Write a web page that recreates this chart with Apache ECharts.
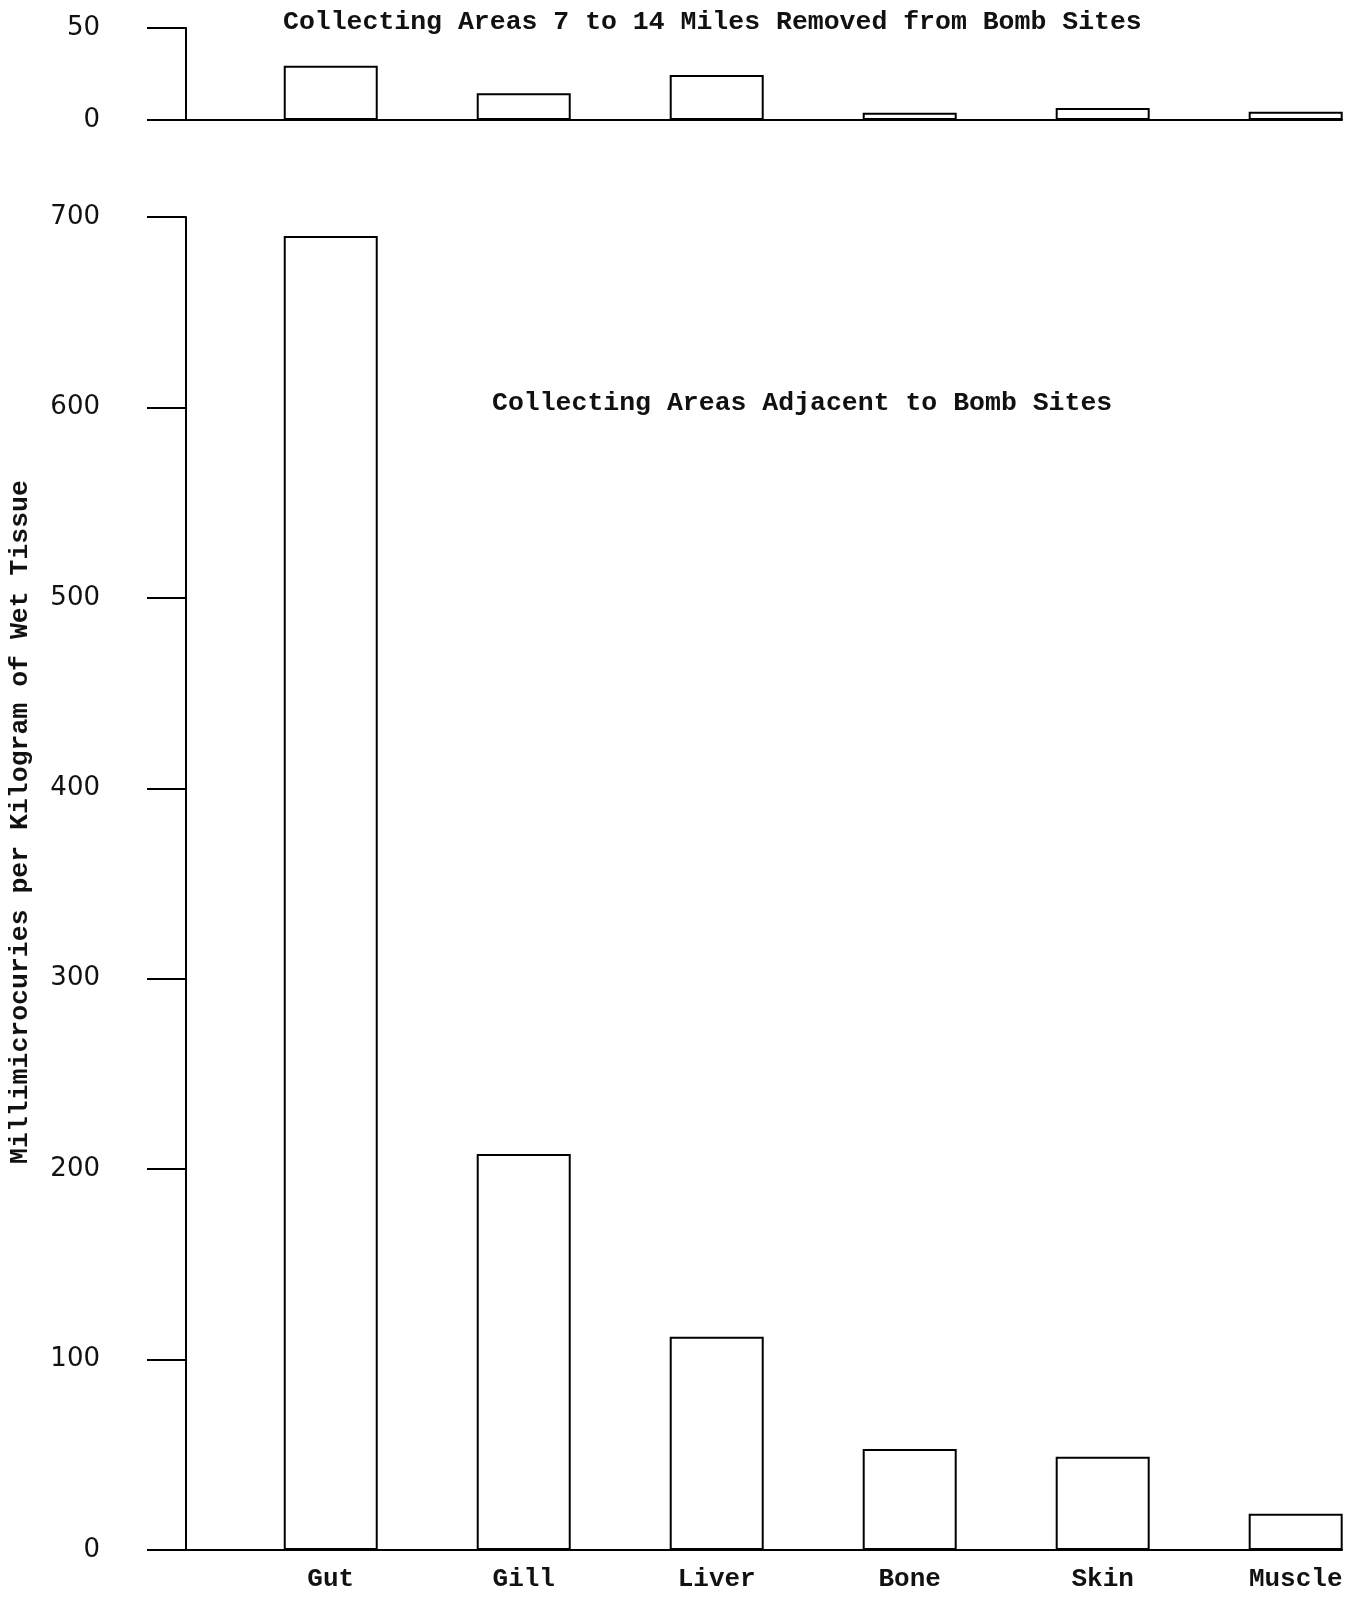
<!DOCTYPE html>
<html>
<head>
<meta charset="utf-8">
<script src="https://cdn.jsdelivr.net/npm/echarts@6/dist/echarts.min.js"></script>
<style>
html,body{margin:0;padding:0;background:#fff;}
#chart{width:1352px;height:1606px;}
</style>
</head>
<body>
<div id="chart"></div>
<script>
// ---- data ----
const categories = ['Gut', 'Gill', 'Liver', 'Bone', 'Skin', 'Muscle'];
const remoteValues = [29.5, 14.5, 24.5, 4, 6.5, 4.5];   // 7 to 14 miles removed
const adjacentValues = [690, 208, 112, 53, 49, 19];     // adjacent to bomb sites
const remoteTicks = [0, 50];
const adjacentTicks = [0, 100, 200, 300, 400, 500, 600, 700];
const remoteTitle = 'Collecting Areas 7 to 14 Miles Removed from Bomb Sites';
const adjacentTitle = 'Collecting Areas Adjacent to Bomb Sites';
const yAxisTitle = 'Millimicrocuries per Kilogram of Wet Tissue';

const mono = '"Liberation Mono", "DejaVu Sans Mono", monospace';
const sans = '"DejaVu Sans", sans-serif';
const positions = categories.map((c, i) => i + 1);

const chart = echarts.init(document.getElementById('chart'), null, {renderer: 'canvas'});

function xAxisCfg(gridIndex, showLabels) {
  return {
    type: 'value', gridIndex: gridIndex, min: 0.25, max: 6.24,
    axisLine: {show: true, onZero: false, lineStyle: {color: '#000', width: 2}},
    axisTick: {show: false},
    splitLine: {show: false},
    axisLabel: showLabels ? {
      show: true, customValues: positions,
      formatter: v => categories[Math.round(v) - 1] || '',
      fontFamily: mono, fontSize: 26, fontWeight: 'bold', color: '#111', margin: 16
    } : {show: false}
  };
}
function yAxisCfg(gridIndex, max, interval) {
  return {
    type: 'value', gridIndex: gridIndex, min: 0, max: max, interval: interval,
    axisLine: {show: true, lineStyle: {color: '#000', width: 2}},
    axisTick: {show: true, inside: false, length: 39, lineStyle: {color: '#000', width: 2}},
    splitLine: {show: false},
    axisLabel: {fontFamily: sans, fontSize: 26, color: '#111', margin: 86}
  };
}

chart.setOption({
  animation: false,
  backgroundColor: '#fff',
  title: [
    {text: remoteTitle, left: 278, top: 4,
     textStyle: {fontFamily: mono, fontSize: 26.5, fontWeight: 'bold', color: '#111'}},
    {text: adjacentTitle, left: 487, top: 385,
     textStyle: {fontFamily: mono, fontSize: 26.5, fontWeight: 'bold', color: '#111'}}
  ],
  grid: [
    {left: 186, right: 10, top: 28, height: 92},
    {left: 186, right: 10, top: 217, height: 1333}
  ],
  xAxis: [xAxisCfg(0, false), xAxisCfg(1, true)],
  yAxis: [yAxisCfg(0, remoteTicks[1], remoteTicks[1]), yAxisCfg(1, adjacentTicks[adjacentTicks.length - 1], adjacentTicks[1])],
  graphic: [{
    type: 'text', x: 20, y: 822, rotation: Math.PI / 2,
    style: {text: yAxisTitle, fontFamily: mono, fontSize: 26.5, fontWeight: 'bold', fill: '#111',
            textAlign: 'center', textVerticalAlign: 'middle'}
  }],
  series: [
    {type: 'bar', xAxisIndex: 0, yAxisIndex: 0, barWidth: 94,
     data: categories.map((c, i) => [positions[i], remoteValues[i]]),
     itemStyle: {color: '#fff', borderColor: '#000', borderWidth: 2}},
    {type: 'bar', xAxisIndex: 1, yAxisIndex: 1, barWidth: 94,
     data: categories.map((c, i) => [positions[i], adjacentValues[i]]),
     itemStyle: {color: '#fff', borderColor: '#000', borderWidth: 2}}
  ]
});
</script>
</body>
</html>
